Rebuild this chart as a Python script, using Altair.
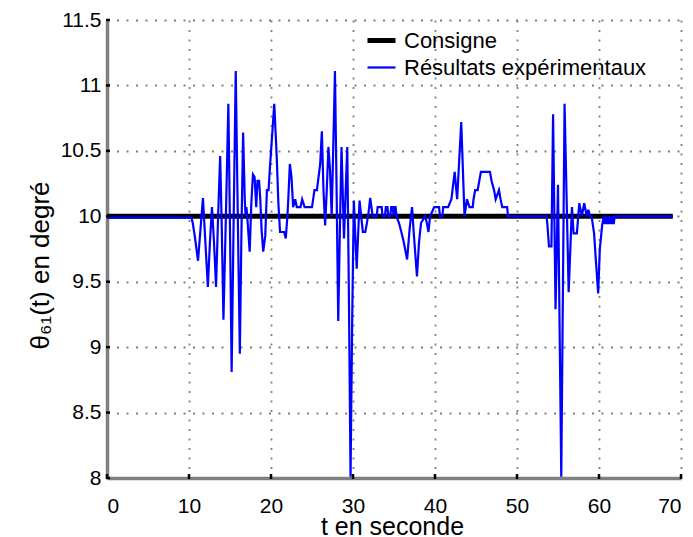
import altair as alt
import pandas as pd

# ---- data ----
series_names = ["Consigne", "Résultats expérimentaux"]

t_consigne = [0, 69]
theta_consigne = [10.0, 10.0]

t_exp = [0, 10.3, 10.45, 10.7, 11.1, 11.4, 11.7, 12.0, 12.3, 12.55, 12.8, 13.05, 13.3, 13.55,
         13.8, 14.0, 14.2, 14.5, 14.8, 15.0, 15.2, 15.45, 15.7, 15.95, 16.2, 16.4, 16.6, 16.8,
         16.9, 17.0, 17.1, 17.4, 17.6, 17.8, 18.0, 18.2, 18.35, 18.55, 18.7, 18.85, 19.05, 19.3,
         19.5, 19.7, 19.9, 20.4, 20.7, 20.9, 21.1, 21.6, 21.8, 22.0, 22.1, 22.3, 22.5, 22.7,
         22.95, 23.15, 23.6, 23.8, 24.1, 25.0, 25.3, 25.6, 26.0, 26.2, 26.4, 26.6, 26.8, 27.0,
         27.2, 27.4, 27.8, 28.0, 28.2, 28.4, 28.6, 28.9, 29.3, 29.5, 29.7, 29.9, 30.1, 30.45,
         30.8, 31.0, 31.2, 31.5, 31.7, 31.9, 32.1, 32.4, 32.9, 33.0, 33.5, 33.6, 33.9, 34.0,
         34.2, 34.3, 34.55, 34.65, 34.85, 34.95, 35.1, 35.2, 35.3, 35.6, 35.9, 36.2, 36.6, 36.9,
         37.2, 37.4, 37.8, 38.05, 38.3, 38.8, 39.0, 39.2, 39.4, 39.9, 40.5, 40.6, 40.9, 41.0,
         41.6, 42.0, 42.4, 42.7, 43.2, 43.6, 43.9, 44.2, 44.6, 44.7, 44.9, 45.2, 45.4, 45.6,
         46.7, 46.9, 47.2, 47.4, 47.8, 48.0, 48.2, 48.8, 48.9, 53.6, 53.7, 53.9, 54.2, 54.4,
         54.7, 55.0, 55.4, 55.8, 56.3, 56.7, 56.9, 57.3, 57.6, 57.9, 58.2, 58.5, 58.7, 58.9,
         59.1, 59.4, 59.6, 59.9, 60.1, 60.4, 60.6, 60.7, 60.8, 60.9, 61.0, 61.1, 61.3, 61.4,
         61.5, 61.6, 61.7, 61.8, 61.9, 69.0]
theta_exp = [9.99, 9.99, 9.95, 9.85, 9.66, 9.9, 10.14, 9.8, 9.46, 9.8, 10.07, 9.8, 9.46, 10.0,
             10.46, 9.9, 9.21, 10.0, 10.86, 9.9, 8.81, 10.0, 11.11, 10.0, 8.95, 9.9, 10.64, 10.13,
             10.0, 10.07, 10.0, 9.73, 10.1, 10.32, 10.3, 10.07, 10.27, 10.27, 10.12, 9.9, 9.73, 9.85,
             10.2, 10.2, 10.4, 10.86, 10.45, 10.1, 9.88, 9.88, 9.83, 10.0, 10.12, 10.4, 10.3, 10.07,
             10.13, 10.07, 10.07, 10.13, 10.07, 10.07, 10.2, 10.2, 10.4, 10.65, 10.2, 9.93, 10.2, 10.53,
             10.35, 10.0, 11.11, 10.2, 9.2, 9.9, 10.53, 9.83, 10.53, 9.4, 8.01, 9.2, 10.12, 9.6,
             10.12, 10.0, 9.88, 9.88, 9.95, 10.03, 10.14, 10.0, 10.0, 10.07, 10.07, 10.0, 10.0, 10.07,
             10.07, 10.0, 10.0, 10.07, 10.07, 10.0, 10.07, 10.07, 10.0, 9.95, 9.88, 9.8, 9.67, 9.9,
             10.07, 9.88, 9.54, 9.8, 9.95, 10.0, 9.95, 9.88, 10.0, 10.07, 10.07, 10.0, 10.0, 10.07,
             10.07, 10.13, 10.34, 10.13, 10.72, 10.0, 10.13, 10.07, 10.07, 10.13, 10.2, 10.2, 10.27, 10.34,
             10.34, 10.27, 10.2, 10.13, 10.2, 10.13, 10.07, 10.07, 10.0, 10.0, 9.94, 9.77, 9.77, 10.78,
             9.29, 10.24, 8.01, 10.86, 9.42, 10.07, 9.87, 9.87, 10.1, 10.0, 10.1, 10.0, 10.05, 10.0,
             10.0, 9.87, 9.68, 9.41, 9.75, 9.94, 10.0, 9.94, 10.0, 9.94, 10.0, 9.94, 10.0, 9.94,
             10.0, 9.94, 10.0, 9.94, 10.0, 10.0]

x_ticks = [0, 10, 20, 30, 40, 50, 60, 70]
y_ticks = [8, 8.5, 9, 9.5, 10, 10.5, 11, 11.5]

x_title = "t en seconde"
y_title = "θ₆₁(t) en degré"

# ---- table built from the lists ----
n_c = len(t_consigne)
n_e = len(t_exp)
df = pd.DataFrame({
    "t": t_consigne + t_exp,
    "theta": theta_consigne + theta_exp,
    "serie": [series_names[0]] * n_c + [series_names[1]] * n_e,
    "ordre": list(range(n_c)) + list(range(n_e)),
})

FONT = "Liberation Sans"
W, H = 574, 458

xscale = alt.Scale(domain=[0, 70], nice=False, zero=False)
yscale = alt.Scale(domain=[8, 11.5], nice=False, zero=False)

x_axis = alt.Axis(
    values=x_ticks, title=x_title, grid=True, gridColor="#7f7f7f", gridDash=[2, 7.5],
    gridWidth=1.8, ticks=False, domainColor="#808080", domainWidth=3.5,
    labelFont=FONT, labelFontSize=21, labelColor="black", labelPadding=17,
    labelBaseline="top", format="d",
    titleFont=FONT, titleFontSize=25, titleFontWeight="normal", titleColor="black",
    titleX=285, titleY=56, titleBaseline="alphabetic", titleAlign="center",
)
y_axis = alt.Axis(
    values=y_ticks, title=y_title, grid=True, gridColor="#7f7f7f", gridDash=[2, 7.5],
    gridWidth=1.8, ticks=False, domainColor="#808080", domainWidth=3.5,
    labelFont=FONT, labelFontSize=21, labelColor="black", labelPadding=6, format="~g",
    titleFont=FONT, titleFontSize=26, titleFontWeight="normal", titleColor="black",
    titleX=-67, titleY=245, titleAngle=270, titleBaseline="middle", titleAlign="center",
)

legend = alt.Legend(
    title=None, orient="none", legendX=258, legendY=4, padding=0,
    symbolType="stroke", symbolSize=784, labelFont=FONT, labelFontSize=22,
    labelColor="black", labelOffset=6, rowPadding=0, labelLimit=0,
)

lines = alt.Chart(df).mark_line(strokeJoin="miter", strokeCap="butt").encode(
    x=alt.X("t:Q", scale=xscale, axis=x_axis),
    y=alt.Y("theta:Q", scale=yscale, axis=y_axis),
    color=alt.Color("serie:N", scale=alt.Scale(domain=series_names, range=["#000000", "#0000ff"]),
                    legend=legend),
    strokeWidth=alt.StrokeWidth("serie:N", scale=alt.Scale(domain=series_names, range=[5, 2.2]),
                                legend=legend),
    order=alt.Order("ordre:Q"),
)

ytick_df = pd.DataFrame({"t": [0] * len(y_ticks), "theta": y_ticks})
xtick_df = pd.DataFrame({"t": x_ticks, "theta": [8] * len(x_ticks)})

yticks = alt.Chart(ytick_df).mark_rule(color="black", strokeWidth=2.5).encode(
    y=alt.Y("theta:Q", scale=yscale, axis=y_axis), x=alt.value(-1), x2=alt.value(3)
)
xticks = alt.Chart(xtick_df).mark_rule(color="black", strokeWidth=2.5).encode(
    x=alt.X("t:Q", scale=xscale, axis=x_axis), y=alt.value(H + 1), y2=alt.value(H - 4)
)

chart = alt.layer(lines, yticks, xticks).properties(
    width=W, height=H,
    autosize=alt.AutoSizeParams(type="none"),
    padding={"left": 107, "top": 20, "right": 12, "bottom": 59},
    background="white",
).configure_view(stroke=None)

chart.save("out.html", embed_options={"renderer": "svg", "actions": False})
